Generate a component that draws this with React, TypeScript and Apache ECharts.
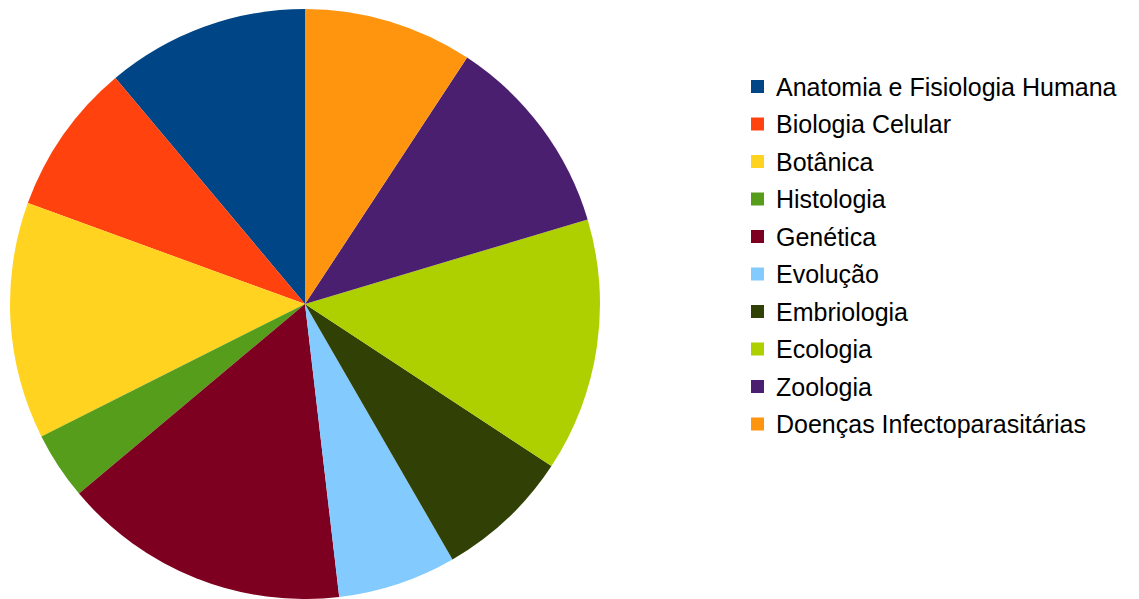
import React, { useEffect, useRef } from "react";
import * as echarts from "echarts";

const categories = [
  "Anatomia e Fisiologia Humana",
  "Biologia Celular",
  "Botânica",
  "Histologia",
  "Genética",
  "Evolução",
  "Embriologia",
  "Ecologia",
  "Zoologia",
  "Doenças Infectoparasitárias",
];
const values = [12, 9, 14, 4, 17, 7, 8, 15, 12, 10];
const colors = [
  "#004586",
  "#ff420e",
  "#ffd320",
  "#579d1c",
  "#7e0021",
  "#83caff",
  "#314004",
  "#aecf00",
  "#4b1f6f",
  "#ff950e",
];

export default function App() {
  const ref = useRef<HTMLDivElement>(null);
  useEffect(() => {
    if (!ref.current) return;
    const chart = echarts.init(ref.current, null, { renderer: "svg" });
    chart.setOption({
      animation: false,
      color: colors,
      legend: {
        orient: "vertical",
        left: 751,
        top: 74,
        itemWidth: 13,
        itemHeight: 13,
        itemGap: 12.5,
        icon: "rect",
        padding: 0,
        selectedMode: false,
        textStyle: {
          fontFamily: "Liberation Sans",
          fontSize: 25,
          lineHeight: 25,
          color: "#000",
          padding: [0, 0, 0, 7],
        },
        data: categories,
      },
      series: [
        {
          type: "pie",
          center: [305, 304],
          radius: 295,
          startAngle: 90,
          clockwise: false,
          label: { show: false },
          labelLine: { show: false },
          itemStyle: { borderWidth: 0 },
          emphasis: { disabled: true },
          data: categories.map((name, i) => ({ name, value: values[i] })),
        },
      ],
    });
    return () => chart.dispose();
  }, []);
  return (
    <div
      ref={ref}
      style={{ position: "fixed", left: 0, top: 0, width: 1139, height: 599, background: "#fff" }}
    />
  );
}
